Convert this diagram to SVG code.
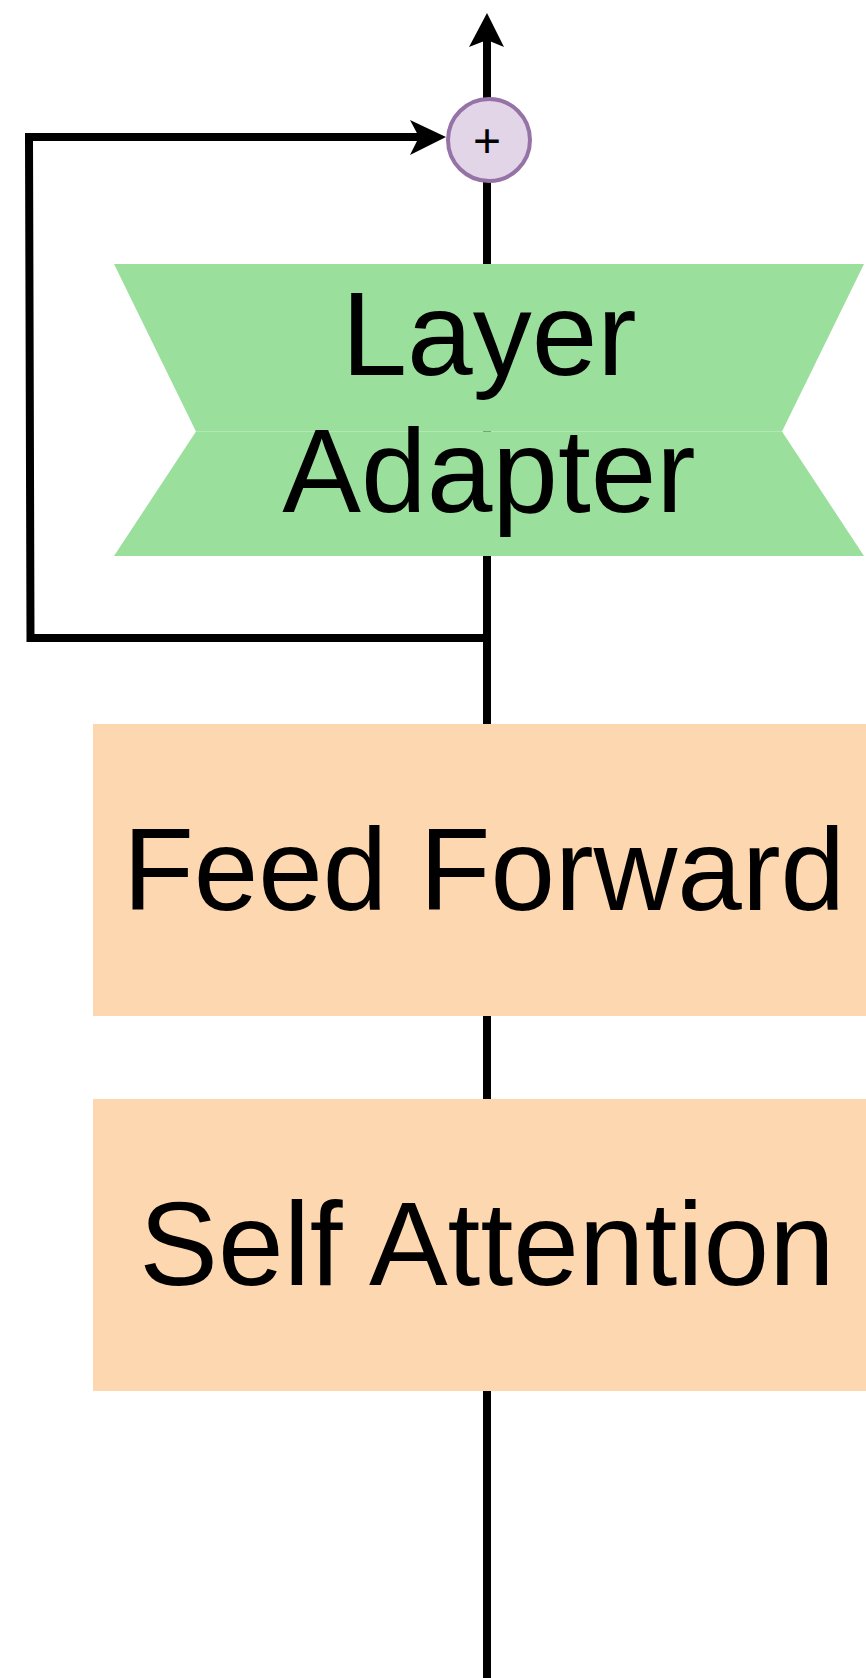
<svg xmlns="http://www.w3.org/2000/svg" width="866" height="1678" viewBox="0 0 866 1678">
  <defs>
    <style>
      .line { fill: none; stroke: #000; stroke-width: 8; stroke-linejoin: miter; }
      .head { fill: #000; stroke: none; }
      .lbl { font-family: "Liberation Sans", Arial, sans-serif; fill: #000; text-anchor: middle; }
      .box { fill: #fdd7b0; stroke: none; }
      .adapter { fill: #9adf9b; stroke: none; }
    </style>
  </defs>
  <rect x="0" y="0" width="866" height="1678" fill="#fff"/>
  <g id="connectors">
    <line class="line" x1="487" y1="1678" x2="487" y2="40"/>
    <polygon class="head" points="487,13 504,47 487,40 469,47"/>
    <polyline class="line" points="487,638 30.5,638 29,137 420,137"/>
    <polygon class="head" points="446,137 410,120 419,137 410,155"/>
  </g>
  <g id="sum">
    <circle cx="489" cy="140" r="41" fill="#e1d5e7" stroke="#9673a6" stroke-width="4"/>
    <text class="lbl" x="487" y="157" font-size="48">+</text>
  </g>
  <g id="layer-adapter">
    <polygon class="adapter" points="114,264 864,264 782,431.5 196,431.5"/>
    <polygon class="adapter" points="196,431.5 782,431.5 864,556 114,556"/>
    <text class="lbl" x="489" y="375" font-size="118">Layer</text>
    <text class="lbl" x="489" y="512" font-size="118">Adapter</text>
  </g>
  <g id="feed-forward">
    <rect class="box" x="93" y="724" width="773" height="292"/>
    <text class="lbl" x="484" y="910" font-size="116">Feed Forward</text>
  </g>
  <g id="self-attention">
    <rect class="box" x="93" y="1099" width="773" height="292"/>
    <text class="lbl" x="487" y="1285" font-size="118">Self Attention</text>
  </g>
</svg>
